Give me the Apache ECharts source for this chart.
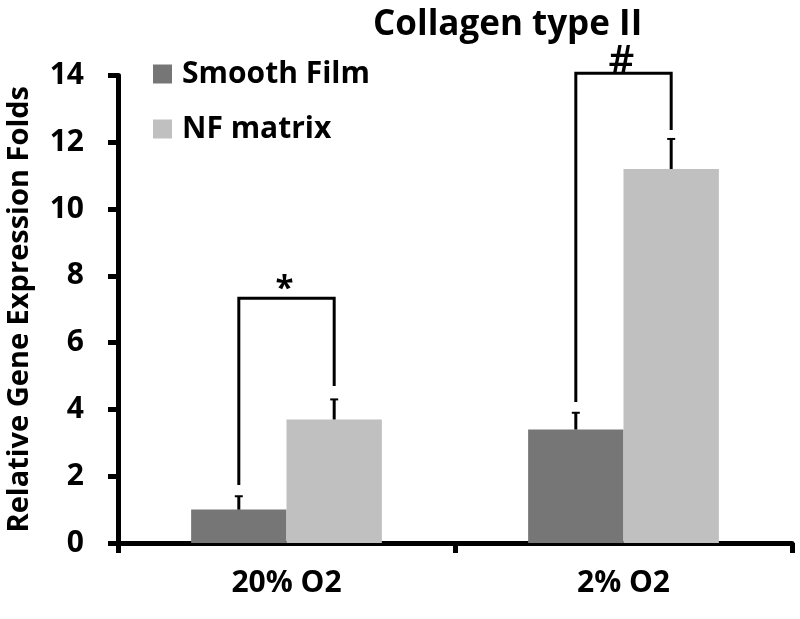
<!DOCTYPE html>
<html>
<head>
<meta charset="utf-8">
<script src="https://cdn.jsdelivr.net/npm/echarts@6/dist/echarts.min.js"></script>
<style>html,body{margin:0;padding:0;background:#fff;}#c{width:800px;height:619px;}</style>
</head>
<body>
<div id="c"></div>
<script>
var categories = ['20% O2', '2% O2'];
var seriesNames = ['Smooth Film', 'NF matrix'];
var smoothFilm = [1.0, 3.4];
var nfMatrix = [3.7, 11.2];
var smoothFilmErrTop = [1.4, 3.9];
var nfMatrixErrTop = [4.3, 12.1];
var bracketLevel = [7.33, 14.07];
var bracketLeftEnd = [1.74, 4.22];
var bracketRightEnd = [4.7, 12.37];
var bracketLabel = ['*', '#'];
var yTicks = [0, 2, 4, 6, 8, 10, 12, 14];

var FONT = '"Open Sans"';
var BAR_FRAC = 0.283;

var chart = echarts.init(document.getElementById('c'));

var errData = [];
for (var i = 0; i < categories.length; i++) {
  errData.push([i, 0, smoothFilm[i], smoothFilmErrTop[i]]);
  errData.push([i, 1, nfMatrix[i], nfMatrixErrTop[i]]);
}
var brData = [];
for (var j = 0; j < categories.length; j++) {
  brData.push([j, bracketLevel[j], bracketLeftEnd[j], bracketRightEnd[j], bracketLabel[j]]);
}

function errRender(params, api) {
  var cat = api.value(0), s = api.value(1);
  var band = api.size([1, 0])[0];
  var off = (s === 0 ? -1 : 1) * band * BAR_FRAC / 2;
  var p0 = api.coord([cat, api.value(2)]);
  var p1 = api.coord([cat, api.value(3)]);
  var x = p0[0] + off;
  return {
    type: 'group',
    children: [
      {type: 'line', shape: {x1: x, y1: p0[1], x2: x, y2: p1[1]}, style: {stroke: '#000', lineWidth: 3}},
      {type: 'line', shape: {x1: x - 4, y1: p1[1], x2: x + 4, y2: p1[1]}, style: {stroke: '#000', lineWidth: 2}}
    ]
  };
}

function brRender(params, api) {
  var cat = api.value(0);
  var band = api.size([1, 0])[0];
  var off = band * BAR_FRAC / 2;
  var top = api.coord([cat, api.value(1)]);
  var l = api.coord([cat, api.value(2)]);
  var r = api.coord([cat, api.value(3)]);
  var xl = top[0] - off, xr = top[0] + off;
  var label = brData[params.dataIndex][4];
  var isStar = label === '*';
  return {
    type: 'group',
    children: [
      {type: 'polyline', shape: {points: [[xl, l[1]], [xl, top[1]], [xr, top[1]], [xr, r[1]]]}, style: {stroke: '#000', lineWidth: 3, fill: null}},
      {type: 'text', x: top[0] - 2, y: top[1] + (isStar ? 8 : 9), style: {text: label, fill: '#000', font: (isStar ? 'bold 33px ' : '600 40px ') + FONT, align: 'center', verticalAlign: 'bottom'}}
    ]
  };
}

var option = {
  animation: false,
  backgroundColor: '#fff',
  title: {
    text: 'Collagen type II',
    left: 373, top: 8, padding: 0,
    textStyle: {fontFamily: FONT, fontWeight: 'bold', fontSize: 35, color: '#000'}
  },
  legend: {
    orient: 'vertical',
    left: 153, top: 59, padding: 0,
    icon: 'rect',
    itemWidth: 19, itemHeight: 19,
    itemGap: 25,
    data: seriesNames,
    textStyle: {fontFamily: FONT, fontWeight: 'bold', fontSize: 30, color: '#000', lineHeight: 20, padding: [0, 0, 0, 5]}
  },
  grid: {left: 118, right: 8, top: 75.5, bottom: 76, containLabel: false, outerBoundsMode: 'none'},
  xAxis: {
    type: 'category',
    data: categories,
    axisLine: {lineStyle: {color: '#000', width: 5}},
    axisTick: {show: true, length: 10, lineStyle: {color: '#000', width: 5}},
    axisLabel: {margin: 25, fontFamily: FONT, fontWeight: 'bold', fontSize: 30, color: '#000'}
  },
  yAxis: {
    type: 'value',
    min: 0, max: 14, interval: 2,
    name: 'Relative Gene Expression Folds',
    nameLocation: 'middle',
    nameGap: 84,
    nameTextStyle: {fontFamily: FONT, fontWeight: 'bold', fontSize: 29, color: '#000'},
    axisLine: {show: true, lineStyle: {color: '#000', width: 5}},
    axisTick: {show: true, length: 10, lineStyle: {color: '#000', width: 5}},
    splitLine: {show: false},
    axisLabel: {margin: 34, fontFamily: FONT, fontWeight: 'bold', fontSize: 30, color: '#000',
      formatter: function (v) { return yTicks.indexOf(v) >= 0 ? String(v) : ''; }}
  },
  series: [
    {name: seriesNames[0], type: 'bar', data: smoothFilm, barWidth: (BAR_FRAC * 100) + '%', barGap: '0%', itemStyle: {color: '#767676'}},
    {name: seriesNames[1], type: 'bar', data: nfMatrix, barWidth: (BAR_FRAC * 100) + '%', barGap: '0%', itemStyle: {color: '#c0c0c0'}},
    {type: 'custom', renderItem: errRender, data: errData, z: 5, silent: true},
    {type: 'custom', renderItem: brRender, data: brData, z: 5, silent: true}
  ]
};
chart.setOption(option);
</script>
</body>
</html>
